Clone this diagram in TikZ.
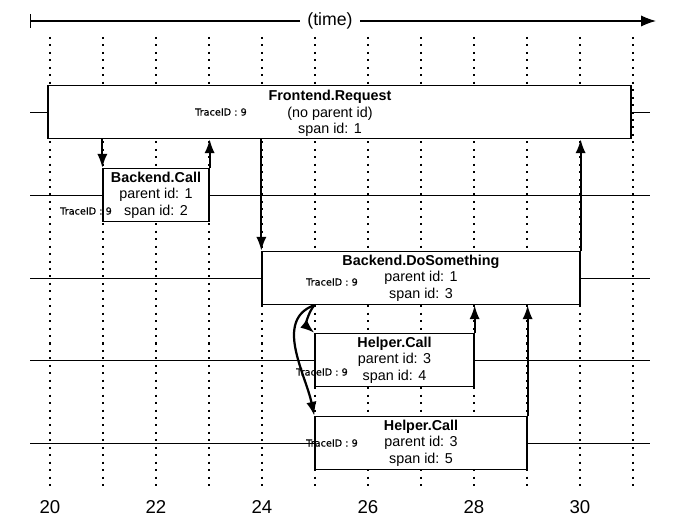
\documentclass[tikz,border=0pt]{standalone}
\usepackage{fontspec}
\setmainfont{Liberation Sans}
\newfontfamily\tracefont[FakeBold=0.5]{DejaVu Sans}
\usetikzlibrary{arrows.meta}

\tikzset{
  spantext/.style={align=center, inner sep=0pt, font=\fontsize{7.7}{8.9}\selectfont},
  spanbox/.style={spantext, draw=black, line width=0.7pt, fill=white, minimum height=1cm},
  traceid/.style={font=\tracefont\fontsize{5.2}{6}\selectfont, inner sep=0pt},
  call/.style={line width=1.2pt, -{Latex[length=7.5pt,width=5.5pt]}},
  tickline/.style={line width=0.7pt, dash pattern=on 1.1pt off 2.9pt},
  track/.style={line width=0.5pt},
  ticklbl/.style={font=\fontsize{10}{12}\selectfont, inner sep=0pt},
}

\begin{document}
\begin{tikzpicture}
\useasboundingbox (19.057,0) rectangle (32.189,-9.811);

% time axis
\coordinate (tstart) at (19.623,-0.396);
\coordinate (tend) at (31.434,-0.396);
\node [font=\fontsize{9.5}{11}\selectfont, inner xsep=3.8pt] (time) at (25.283,-0.396) {(time)};
\draw [{Bar[width=7pt]}-, line width=0.6pt] (tstart) -- (time);
\draw [-{Latex[length=8pt,width=6pt]}, line width=0.6pt] (time) -- (tend);

% grid and tracks
\foreach \t in {20,...,31}
  \draw [tickline] (\t,-0.698) -- (\t,-9.245);
\foreach \y in {-2.113,-3.679,-5.245,-6.792,-8.358}
  \draw [track] (19.623,\y) -- (31.321,\y);
\foreach \t in {20,22,...,30}
  \node [ticklbl] (lbl\t) at (\t,-9.566) {\t};

% spans
\node [spanbox, minimum width=11cm] (fe) at (25.462,-2.113) {};
\node [spantext] (fetext) at (25.283,-2.140) {\textbf{Frontend.Request}\\(no parent id)\\span id: 1};
\node [spanbox, minimum width=2cm] (bc) at (22,-3.679) {\textbf{Backend.Call}\\parent id: 1\\span id: 2};
\node [spanbox, minimum width=6cm] (ds) at (27,-5.245) {\textbf{Backend.DoSomething}\\parent id: 1\\span id: 3};
\node [spanbox, minimum width=3cm] (h1) at (26.5,-6.792) {\textbf{Helper.Call}\\parent id: 3\\span id: 4};
\node [spanbox, minimum width=4cm] (h2) at (27,-8.358) {\textbf{Helper.Call}\\parent id: 3\\span id: 5};

% trace ids
\node [traceid] (tid1) at (23.226,-2.113) {TraceID : 9};
\node [traceid] (tid2) at (20.68,-3.981) {TraceID : 9};
\node [traceid] (tid3) at (25.321,-5.321) {TraceID : 9};
\node [traceid] (tid4) at (25.132,-7.019) {TraceID : 9};
\node [traceid] (tid5) at (25.321,-8.358) {TraceID : 9};

% calls
\draw [call] (bc.north west |- fe.south) -- (bc.north west);
\draw [call] (bc.north east) -- (bc.north east |- fe.south);
\draw [call] (ds.north west |- fe.south) -- (ds.north west);
\draw [call] (ds.north east) -- (ds.north east |- fe.south);
\draw [call] (h1.north west |- ds.south) to [out=230, in=140] (h1.north west);
\draw [call] (h2.north west |- ds.south) to [out=200, in=102] (h2.north west);
\draw [call] (h1.north east) -- (h1.north east |- ds.south);
\draw [call] (h2.north east) -- (h2.north east |- ds.south);
\end{tikzpicture}
\end{document}
